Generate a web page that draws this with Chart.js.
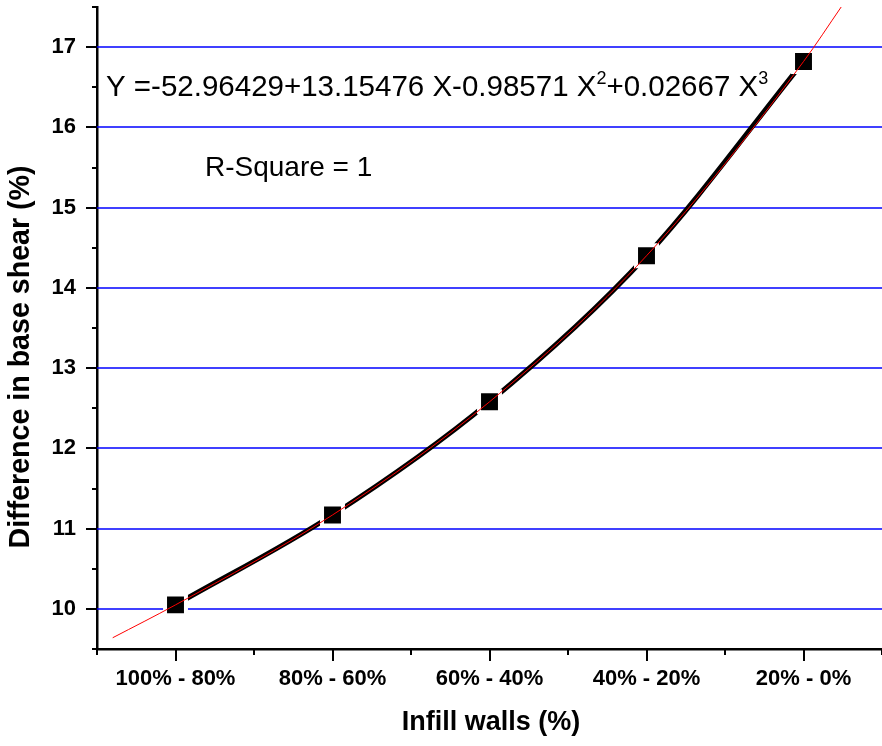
<!DOCTYPE html>
<html>
<head>
<meta charset="utf-8">
<script src="https://cdn.jsdelivr.net/npm/chart.js@4.4.1/dist/chart.umd.min.js"></script>
<style>
  html, body { margin: 0; padding: 0; background: #fff; overflow: hidden; }
  #chart { display: block; }
</style>
</head>
<body>
<canvas id="chart" width="882" height="746"></canvas>
<script>
// categories on the x axis (positions 1..5)
const categories = ['100% - 80%', '80% - 60%', '60% - 40%', '40% - 20%', '20% - 0%']
const positions = [1, 2, 3, 4, 5]
const baseShear = [10.05, 11.17, 12.58, 14.40, 16.82]

// red fitted curve (runs a bit past the data at both ends)
const fitX = [0.6, 1, 2, 3, 4, 5, 5.24]
const fitY = [9.64, 10.05, 11.17, 12.58, 14.40, 16.82, 17.5]

const FONT = 'Liberation Sans, Arial, sans-serif'

function xy(xs, ys) {
    let out = []
    for (let i = 0; i < xs.length; ++i) out.push({x: xs[i], y: ys[i]})
    return out
}

// major ticks only on the whole numbers inside the scale bounds
function wholeTicks(scale) {
    let out = []
    for (let v = Math.ceil(scale.min); v <= Math.floor(scale.max); ++v) out.push({value: v})
    scale.ticks = out
}

// every half step between the scale bounds, for the minor tick marks
function halfSteps(scale) {
    let out = []
    for (let v = scale.min; v <= scale.max + 1e-9; v += 0.5) out.push(v)
    return out
}

// blue horizontal grid lines at the major ticks
const blueGrid = {
    id: 'blueGrid',
    beforeDatasetsDraw(chart) {
        const ctx = chart.ctx
        const ys = chart.scales.y
        const area = chart.chartArea
        ctx.save()
        ctx.strokeStyle = '#0000ff'
        ctx.lineWidth = 1.5
        ys.ticks.forEach(t => {
            let py = Math.round(ys.getPixelForValue(t.value))
            ctx.beginPath()
            ctx.moveTo(area.left, py)
            ctx.lineTo(area.right, py)
            ctx.stroke()
        })
        ctx.restore()
    }
}

// minor / major tick marks drawn outward, plus the axis titles
const axisDecor = {
    id: 'axisDecor',
    afterDraw(chart) {
        const ctx = chart.ctx
        const xs = chart.scales.x
        const ys = chart.scales.y
        ctx.save()
        ctx.strokeStyle = '#000'
        ctx.lineWidth = 2
        halfSteps(ys).forEach(v => {
            let py = Math.round(ys.getPixelForValue(v))
            let len = Number.isInteger(v) ? 11 : 5
            ctx.beginPath()
            ctx.moveTo(ys.right - len, py)
            ctx.lineTo(ys.right, py)
            ctx.stroke()
        })
        halfSteps(xs).forEach(v => {
            let px = Math.round(xs.getPixelForValue(v))
            let len = Number.isInteger(v) ? 12 : 6
            ctx.beginPath()
            ctx.moveTo(px, xs.top)
            ctx.lineTo(px, xs.top + len)
            ctx.stroke()
        })

        ctx.fillStyle = '#000'
        ctx.textAlign = 'center'
        ctx.textBaseline = 'middle'
        ctx.font = 'bold 27px ' + FONT
        ctx.fillText('Infill walls (%)', 491, 723)

        ctx.translate(21, 357)
        ctx.rotate(-Math.PI / 2)
        ctx.font = 'bold 28.6px ' + FONT
        ctx.fillText('Difference in base shear (%)', 0, 0)
        ctx.restore()
    }
}

// fit equation and R-square text
const fitText = {
    id: 'fitText',
    afterDraw(chart) {
        const ctx = chart.ctx
        ctx.save()
        ctx.fillStyle = '#000'
        ctx.textBaseline = 'alphabetic'
        ctx.textAlign = 'left'
        const big = '29.5px ' + FONT
        const small = '18px ' + FONT
        let x = 106, y = 96
        let parts = [
            ['Y =-52.96429+13.15476 X-0.98571 X', big, 0],
            ['2', small, -12],
            ['+0.02667 X', big, 0],
            ['3', small, -12]
        ]
        parts.forEach(p => {
            ctx.font = p[1]
            ctx.fillText(p[0], x, y + p[2])
            x += ctx.measureText(p[0]).width
        })
        ctx.font = '28px ' + FONT
        ctx.fillText('R-Square = 1', 205, 176)
        ctx.restore()
    }
}

let ctx = document.getElementById('chart').getContext('2d')
let chart = new Chart(ctx, {
    type: 'scatter',
    data: {
        datasets: [
            {
                // fitted curve, drawn on top
                data: xy(fitX, fitY),
                showLine: true,
                borderColor: '#ff0000',
                borderWidth: 1,
                pointRadius: 0,
                cubicInterpolationMode: 'monotone'
            },
            {
                data: xy(positions, baseShear),
                showLine: true,
                borderColor: '#000',
                borderWidth: 5,
                cubicInterpolationMode: 'monotone',
                pointStyle: 'rect',
                pointRadius: 14.8,
                pointBackgroundColor: '#000',
                pointBorderColor: '#fff',
                pointBorderWidth: 4
            }
        ]
    },
    options: {
        responsive: false,
        animation: false,
        layout: { autoPadding: false, padding: { top: 7, right: 0, left: 0, bottom: 0 } },
        plugins: {
            legend: { display: false },
            tooltip: { enabled: false }
        },
        scales: {
            x: {
                type: 'linear',
                min: 0.5,
                max: 5.5,
                afterBuildTicks: wholeTicks,
                afterFit: (s) => { s.height = 97; s.paddingLeft = 0; s.paddingRight = 0 },
                grid: { display: false, drawTicks: false },
                border: { display: true, color: '#000', width: 2.5 },
                ticks: {
                    autoSkip: false,
                    maxRotation: 0,
                    padding: 17,
                    color: '#000',
                    font: { family: FONT, size: 22, weight: 'bold' },
                    callback: (v) => categories[v - 1]
                }
            },
            y: {
                min: 9.5,
                max: 17.5,
                afterBuildTicks: wholeTicks,
                afterFit: (s) => { s.width = 97; s.paddingTop = 0; s.paddingBottom = 0 },
                grid: { display: false, drawTicks: false },
                border: { display: true, color: '#000', width: 2.5 },
                ticks: {
                    autoSkip: false,
                    padding: 21,
                    color: '#000',
                    font: { family: FONT, size: 22, weight: 'bold' }
                }
            }
        }
    },
    plugins: [blueGrid, axisDecor, fitText]
})
</script>
</body>
</html>
